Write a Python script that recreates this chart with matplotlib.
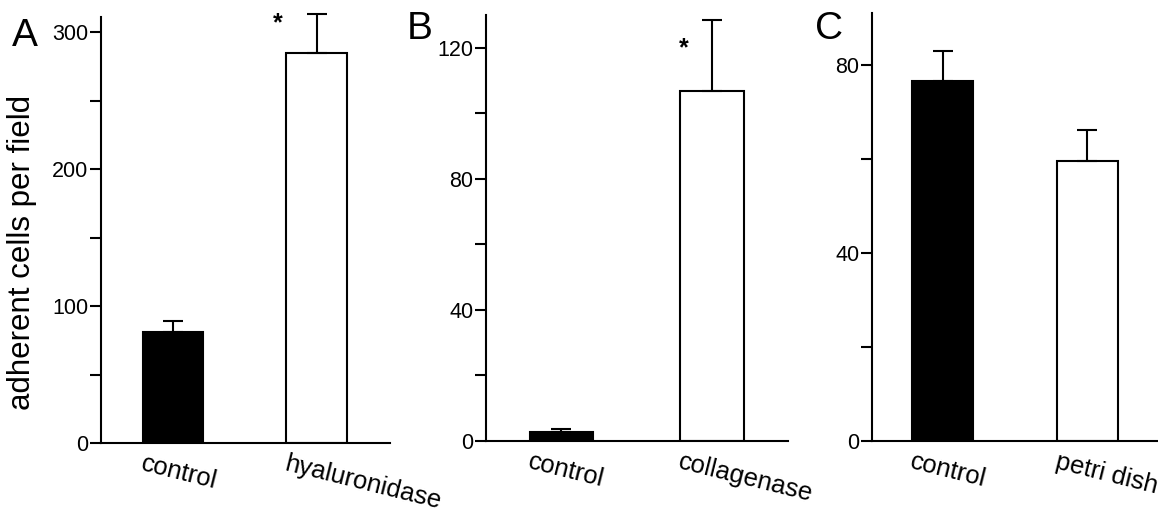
"""Adherent cells per field: three bar panels (A, B, C)"""
import matplotlib
matplotlib.use('Agg')
import matplotlib.pyplot as plt
from matplotlib.ticker import MultipleLocator

plt.rcParams['font.family'] = ['Liberation Sans', 'DejaVu Sans']

# --- data ---
labels_a = ['control', 'hyaluronidase']
means_a = [81, 285]
errs_a = [8, 28]

labels_b = ['control', 'collagenase']
means_b = [2.8, 106.8]
errs_b = [0.9, 21.6]

labels_c = ['control', 'petri dish']
means_c = [76.6, 59.6]
errs_c = [6.4, 6.6]

signif_a = [False, True]
signif_b = [False, True]
signif_c = [False, False]

FILL = ['black', 'white']
LW = 1.5

fig = plt.figure(figsize=(11.58, 5.17), dpi=100)
axA = fig.add_axes([0.0872, 0.1431, 0.2496, 0.824])
axB = fig.add_axes([0.4197, 0.147, 0.2608, 0.824])
axC = fig.add_axes([0.7530, 0.147, 0.2470, 0.828])

# ax, letter, labels, means, errs, signif, ymax, major, minor, xlim, letter (px), star offset
panels = [
    (axA, 'A', labels_a, means_a, errs_a, signif_a, 311, 100, 50, (-0.50, 1.51), (12, 36), (-0.27, 0.77)),
    (axB, 'B', labels_b, means_b, errs_b, signif_b, 130, 40, 20, (-0.50, 1.505), (407, 29), (-0.19, 0.61)),
    (axC, 'C', labels_c, means_c, errs_c, signif_c, 91, 40, 20, (-0.49, 1.49), (815, 29), (0, 0)),
]

W, H = 1158, 517
for ax, letter, labels, means, errs, sig, ymax, major, minor, xlim, lpos, star in panels:
    x = list(range(len(labels)))
    w = 0.42
    ax.bar(x, means, width=w, color=FILL, edgecolor='black', linewidth=LW, zorder=2)
    ax.errorbar(x, means, yerr=[[0] * len(errs), errs], fmt='none', ecolor='black',
                elinewidth=LW, capsize=7, capthick=LW, zorder=3, clip_on=False)
    for xi, m, e, s in zip(x, means, errs, sig):
        if s:
            ax.text(xi + star[0], m + e * star[1], '*', ha='center', va='center',
                    fontsize=18, fontweight='bold')

    ax.set_xlim(*xlim)
    ax.set_ylim(0, ymax)
    ax.yaxis.set_major_locator(MultipleLocator(major))
    ax.yaxis.set_minor_locator(MultipleLocator(minor))
    ax.tick_params(axis='y', which='both', direction='out', length=8, width=LW,
                   labelsize=15.5, pad=1)
    ax.set_xticks([])
    for side in ('top', 'right'):
        ax.spines[side].set_visible(False)
    ax.spines['left'].set_linewidth(LW)
    ax.spines['bottom'].set_linewidth(LW)

    for xi, lab in zip(x, labels):
        ax.text(xi - w / 2 + 0.01, -0.02, lab, transform=ax.get_xaxis_transform(),
                ha='left', va='top', rotation=-14, rotation_mode='anchor', fontsize=18.5)

    fig.text(lpos[0] / W, 1 - lpos[1] / H, letter, ha='left', va='center', fontsize=28)

axA.set_ylabel('adherent cells per field', fontsize=22.5)
axA.yaxis.set_label_coords(-0.222, 0.448)

fig.savefig('out.png', dpi=100)
plt.close(fig)
print('saved: out.png')
